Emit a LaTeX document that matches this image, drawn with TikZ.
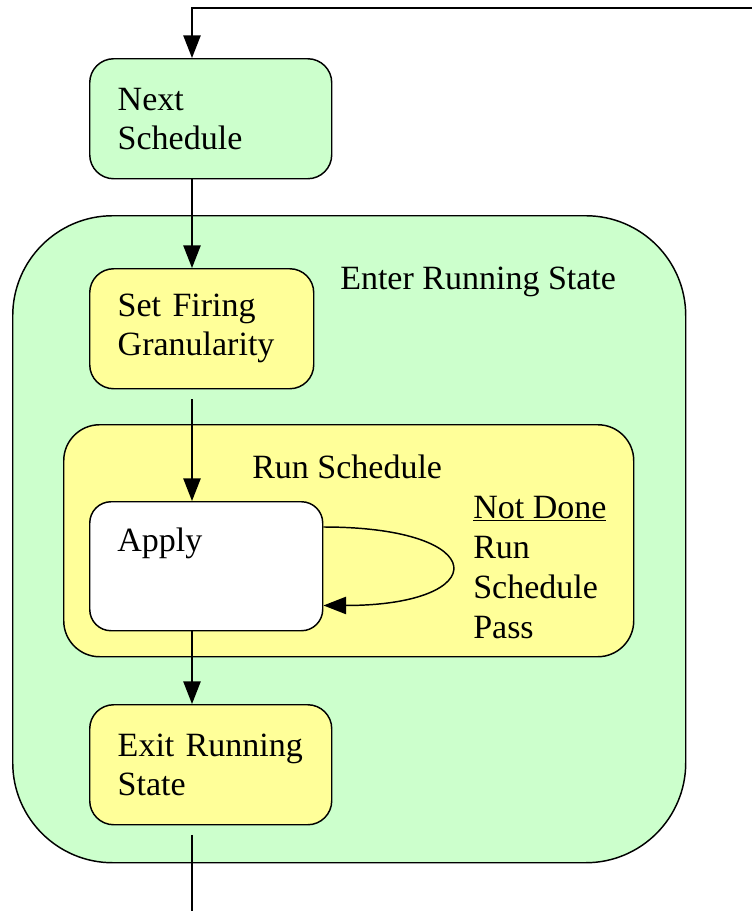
\documentclass[tikz,border=0pt]{standalone}
\usepackage{fontspec}
\setmainfont{Liberation Serif}
\usetikzlibrary{arrows.meta,calc}

\definecolor{stategreen}{HTML}{CCFFCC}
\definecolor{stateyellow}{HTML}{FFFF99}

\tikzset{
  stepbox/.style={draw, line width=1.1pt, rounded corners=18pt, align=left,
    anchor=north west, inner xsep=21pt, inner ysep=0pt, minimum height=90pt},
  txt/.style={inner sep=0pt, anchor=west},
  arr/.style={line width=1.1pt, -{Triangle[length=17pt,width=13pt]}},
  plain/.style={line width=1.1pt}
}

\begin{document}
\begin{tikzpicture}[x=0.75pt, y=-0.75pt, font=\fontsize{25.5}{29.5}\selectfont]
  \useasboundingbox (0,0) rectangle (752,911);

  % outer states
  \node (enter) [draw, line width=1.1pt, fill=stategreen, rounded corners=75pt,
    anchor=north west, minimum width=504.75pt, minimum height=485.25pt] at (12,215) {};
  \node (entertext) [txt] at (340,282) {Enter Running State};
  \node (next) [stepbox, fill=stategreen, text width=139.5pt] at (89,58) {Next\\Schedule};
  \node (firing) [stepbox, fill=stateyellow, text width=126pt] at (89,268) {Set Firing\\Granularity};

  % run schedule
  \node (run) [draw, line width=1.1pt, fill=stateyellow, rounded corners=27pt,
    anchor=north west, minimum width=427.5pt, minimum height=174pt] at (63,424) {};
  \node (runtext) [txt] at (252,467) {Run Schedule};
  \node (apply) [draw, line width=1.1pt, fill=white, rounded corners=16pt,
    anchor=north west, minimum width=174.75pt, minimum height=96.75pt] at (89,501) {};
  \node (applytext) [txt] at (117,543) {Apply};
  \node (notdone) [inner sep=0pt, anchor=north west, align=left,
    font=\fontsize{25.5}{30}\selectfont] at (473,496) {\underline{Not Done}\\Run\\Schedule\\Pass};

  \node (exit) [stepbox, fill=stateyellow, text width=139.5pt] at (89,704) {Exit Running\\State};

  \coordinate (spine) at (192,0);
  \coordinate (loopin) at (752,8);
  \coordinate (out) at (192,911);

  \draw[arr] (loopin) -| (next.north -| spine);
  \draw[arr] (next.south -| spine) -- (firing.north -| spine);
  \draw[arr, shorten <=7.5pt] (firing.south -| spine) -- (apply.north -| spine);
  \draw[arr] ($(apply.north east)+(0,26)$) .. controls +(170,0) and +(170,0) .. ($(apply.south east)+(0,-26)$);
  \draw[arr] (apply.south -| spine) -- (exit.north -| spine);
  \draw[plain, shorten <=7pt] (exit.south -| spine) -- (out);
\end{tikzpicture}
\end{document}
